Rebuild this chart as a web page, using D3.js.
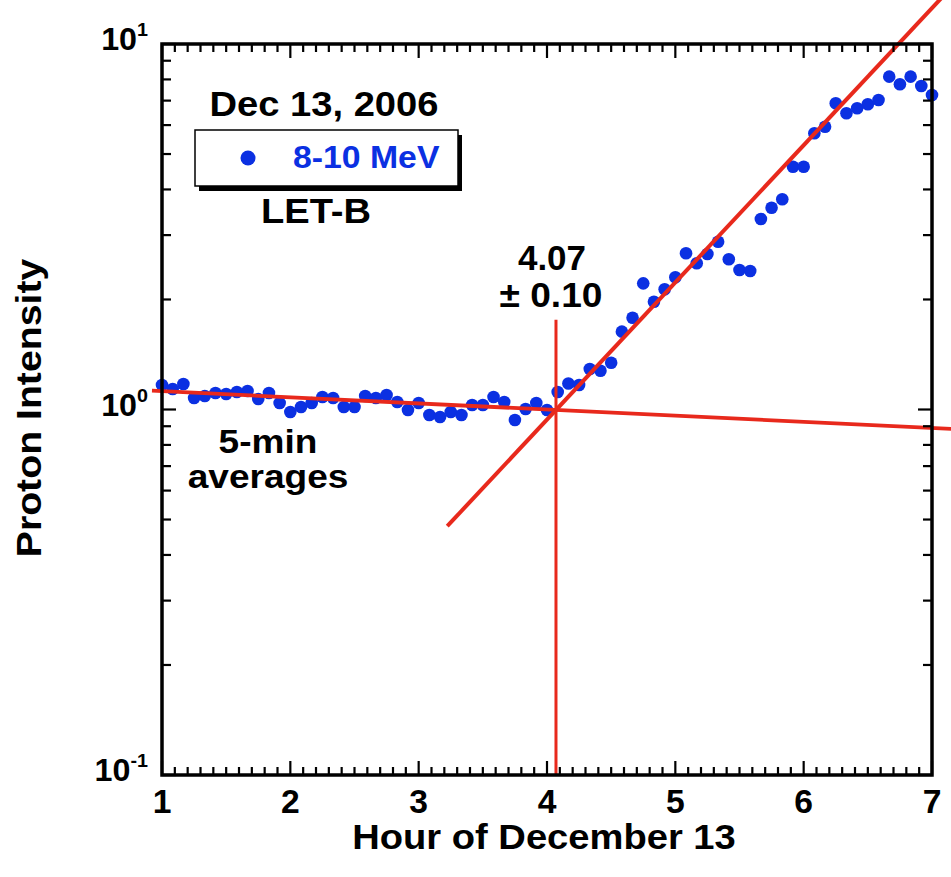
<!DOCTYPE html>
<html>
<head>
<meta charset="utf-8">
<script src="https://cdn.jsdelivr.net/npm/d3@7/dist/d3.min.js"></script>
<style>
  html, body { margin: 0; padding: 0; background: #fff; }
  svg text { font-family: "Liberation Sans", Arial, Helvetica, sans-serif; font-weight: bold; }
</style>
</head>
<body>
<svg id="chart" width="951" height="877"></svg>
<script>
// 5-minute averages of 8-10 MeV proton intensity, LET-B, Dec 13 2006
const startHour = 1;
const stepHours = 5 / 60;
const intensity = [
  1.167, 1.138, 1.174, 1.075, 1.089, 1.110, 1.103, 1.117, 1.124, 1.068,
  1.110, 1.042, 0.984, 1.016, 1.042, 1.082, 1.075, 1.016, 1.016, 1.089,
  1.075, 1.096, 1.048, 0.997, 1.042, 0.966, 0.954, 0.984, 0.966, 1.029,
  1.029, 1.082, 1.048, 0.936, 1.003, 1.042, 0.997, 1.117, 1.178, 1.167,
  1.291, 1.277, 1.343, 1.633, 1.783, 2.214, 1.972, 2.132, 2.300, 2.676,
  2.512, 2.664, 2.878, 2.576, 2.408, 2.393, 3.320, 3.566, 3.760, 4.616,
  4.616, 5.697, 5.939, 6.883, 6.463, 6.671, 6.840, 7.028, 8.140, 7.759,
  8.140, 7.678, 7.253
];

// Two-segment fit: break time, its uncertainty, level at the break,
// and log10 slopes (decades per hour) before and after onset
const breakHour = 4.07;
const breakErr = 0.10;
const breakValue = 0.997;
const preSlope = -0.0168;
const postSlope = 0.3753;
const preSpan = [0.922, 7.16];
const postSpan = [3.223, 7.2];
const markerTop = 1.76;

const xTicks = [1, 2, 3, 4, 5, 6, 7];
const yTicks = [0.1, 1, 10];
const yTickExp = ["-1", "0", "1"];

const xLabel = "Hour of December 13";
const yLabel = "Proton Intensity";
const dateLabel = "Dec 13, 2006";
const seriesLabel = "8-10 MeV";
const instrument = "LET-B";
const cadenceLabel = ["5-min", "averages"];

const points = intensity.map((v, i) => ({ h: startHour + i * stepHours, v }));

const svg = d3.select("#chart");
const x = d3.scaleLinear().domain([1, 7]).range([162, 932]);
const y = d3.scaleLog().domain([0.1, 10]).range([775, 44]);

const blue = "#0b30e2";
const red = "#e8291c";
const WIDE = 1.09;   // the lettering runs a little wider than Liberation Sans

const fitValue = (h, slope) => breakValue * Math.pow(10, slope * (h - breakHour));

// text placed at (tx, ty), stretched horizontally by k about its anchor
function label(parent, tx, ty, str, size, opts = {}) {
  const k = opts.k || WIDE;
  const rot = opts.rotate ? ` rotate(${opts.rotate})` : "";
  return parent.append("text")
    .attr("transform", `translate(${tx},${ty})${rot} scale(${k},1)`)
    .attr("text-anchor", opts.anchor || "middle")
    .attr("font-size", size)
    .attr("fill", opts.fill || "#000")
    .text(str);
}

// data points
svg.append("g").selectAll("circle")
  .data(points).join("circle")
  .attr("cx", d => x(d.h))
  .attr("cy", d => y(d.v))
  .attr("r", 6.3)
  .attr("fill", blue);

// fit lines (drawn unclipped, on top of the points)
const line = d3.line().x(d => x(d[0])).y(d => y(d[1]));
svg.append("path")
  .attr("d", line(preSpan.map(h => [h, fitValue(h, preSlope)])))
  .attr("stroke", red).attr("stroke-width", 3.8).attr("fill", "none");
svg.append("path")
  .attr("d", line(postSpan.map(h => [h, fitValue(h, postSlope)])))
  .attr("stroke", red).attr("stroke-width", 4).attr("fill", "none");
svg.append("path")
  .attr("d", line([[breakHour, 0.1], [breakHour, markerTop]]))
  .attr("stroke", red).attr("stroke-width", 3).attr("fill", "none");

// axes: ticks on all four sides, pointing inward
const minorX = d3.range(10, 71).map(d => d / 10).filter(d => !xTicks.includes(d));
const minorY = [];
[0.1, 1].forEach(dec => { for (let k = 2; k <= 9; k++) minorY.push(dec * k); });

const axisG = svg.append("g").attr("stroke", "#000").attr("stroke-width", 2.2);
const yBottom = y.range()[0], yTop = y.range()[1];
const xLeft = x.range()[0], xRight = x.range()[1];
minorX.forEach(h => {
  axisG.append("line").attr("x1", x(h)).attr("x2", x(h)).attr("y1", yBottom).attr("y2", yBottom - 8);
  axisG.append("line").attr("x1", x(h)).attr("x2", x(h)).attr("y1", yTop).attr("y2", yTop + 8);
});
xTicks.forEach(h => {
  axisG.append("line").attr("x1", x(h)).attr("x2", x(h)).attr("y1", yBottom).attr("y2", yBottom - 14);
  axisG.append("line").attr("x1", x(h)).attr("x2", x(h)).attr("y1", yTop).attr("y2", yTop + 14);
});
minorY.forEach(v => {
  axisG.append("line").attr("x1", xLeft).attr("x2", xLeft + 9).attr("y1", y(v)).attr("y2", y(v));
  axisG.append("line").attr("x1", xRight).attr("x2", xRight - 9).attr("y1", y(v)).attr("y2", y(v));
});
yTicks.forEach(v => {
  axisG.append("line").attr("x1", xLeft).attr("x2", xLeft + 14).attr("y1", y(v)).attr("y2", y(v));
  axisG.append("line").attr("x1", xRight).attr("x2", xRight - 14).attr("y1", y(v)).attr("y2", y(v));
});
svg.append("rect")
  .attr("x", xLeft).attr("y", yTop)
  .attr("width", xRight - xLeft).attr("height", yBottom - yTop)
  .attr("fill", "none").attr("stroke", "#000").attr("stroke-width", 3.5);

// tick labels
const tickG = svg.append("g");
xTicks.forEach(t => label(tickG, x(t), 813, t, 33, { k: 1.02 }));

yTicks.forEach((v, i) => {
  const t = tickG.append("text")
    .attr("transform", `translate(148,${y(v) + 6}) scale(1.04,1)`)
    .attr("text-anchor", "end")
    .attr("font-size", 31);
  t.append("tspan").text("10");
  t.append("tspan").attr("dy", -14).attr("font-size", 19).text(yTickExp[i]);
});

// axis titles
label(svg, 544, 849, xLabel, 35);
label(svg, 41, 408, yLabel, 36, { rotate: -90 });

// legend
label(svg, 324, 116, dateLabel, 35);
svg.append("rect")
  .attr("x", 199).attr("y", 135).attr("width", 263).attr("height", 56)
  .attr("fill", "#000");
svg.append("rect")
  .attr("x", 195).attr("y", 130).attr("width", 263).attr("height", 56)
  .attr("fill", "#fff").attr("stroke", "#000").attr("stroke-width", 1.5);
svg.append("circle")
  .attr("cx", 248).attr("cy", 158).attr("r", 7.5).attr("fill", blue);
label(svg, 293, 168, seriesLabel, 31, { anchor: "start", fill: blue });
label(svg, 316, 223, instrument, 35);

// break-time annotation
label(svg, x(breakHour) - 4, 270, breakHour.toFixed(2), 35, { k: 1.0 });
label(svg, x(breakHour) - 5, 307, "\u00b1 " + breakErr.toFixed(2), 35, { k: 1.06 });

// cadence note
cadenceLabel.forEach((s, i) => label(svg, 268, 453 + i * 35, s, 34));
</script>
</body>
</html>
